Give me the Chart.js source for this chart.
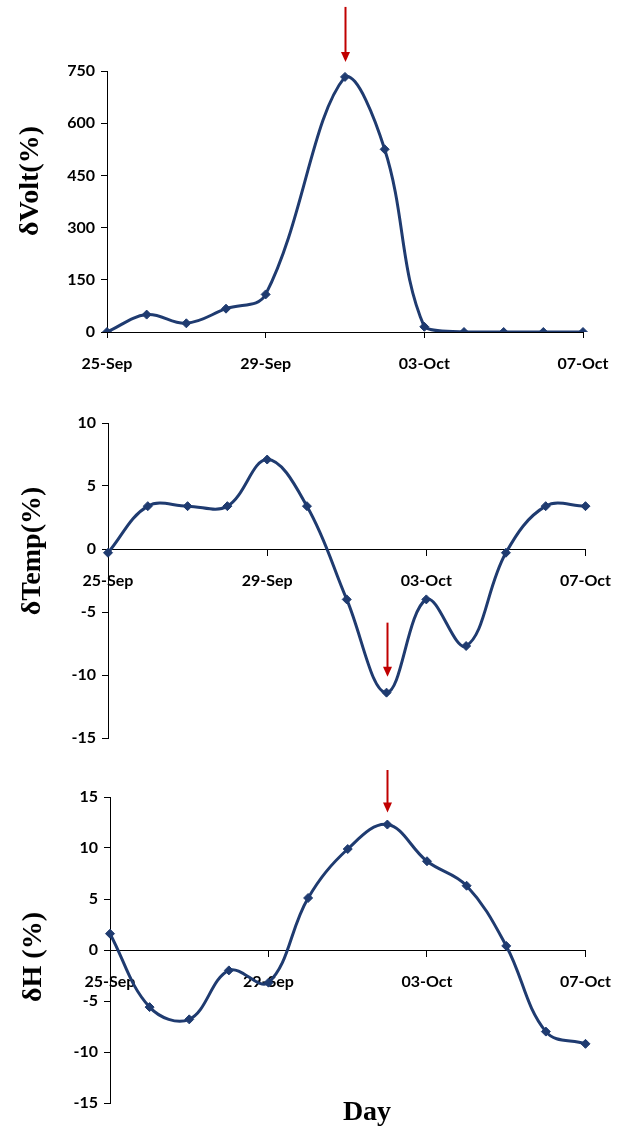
<!DOCTYPE html>
<html>
<head>
<meta charset="utf-8">
<script src="https://cdn.jsdelivr.net/npm/chart.js@4.4.1/dist/chart.umd.min.js"></script>
<style>
body{margin:0;background:#fff;width:627px;height:1128px;position:relative;overflow:hidden}
.box{position:absolute;left:0;width:627px}
.ttl{position:absolute;font:bold 28px 'Liberation Serif',serif;color:#000;white-space:nowrap;transform:translate(-50%,-50%) rotate(-90deg)}
#day{position:absolute;font:bold 28px 'Liberation Serif',serif;color:#000;transform:translate(-50%,-50%)}
</style>
</head>
<body>
<div class="box" style="top:0;height:390px"><canvas id="c1"></canvas></div>
<div class="box" style="top:390px;height:380px"><canvas id="c2"></canvas></div>
<div class="box" style="top:770px;height:358px"><canvas id="c3"></canvas></div>
<div class="ttl" style="left:29px;top:181px">δVolt(%)</div>
<div class="ttl" style="left:31px;top:551px">δTemp(%)</div>
<div class="ttl" style="left:32px;top:957px">δH (%)</div>
<div id="day" style="left:367px;top:1111px">Day</div>
<script>
// daily values, 25-Sep .. 07-Oct (30-Sep missing in the volt series)
const days = ['25-Sep','26-Sep','27-Sep','28-Sep','29-Sep','30-Sep','01-Oct','02-Oct','03-Oct','04-Oct','05-Oct','06-Oct','07-Oct'];
const shownDays = ['25-Sep','29-Sep','03-Oct','07-Oct'];
const volt = [0,50,25,67,108,null,733,525,15,0,0,0,0];
const temp = [-0.3,3.4,3.4,3.4,7.1,3.4,-4.0,-11.4,-4.0,-7.7,-0.3,3.4,3.4];
const hField = [1.6,-5.6,-6.8,-2.0,-3.2,5.1,9.9,12.3,8.7,6.3,0.4,-8.0,-9.2];
const voltTicks = [0,150,300,450,600,750];
const tempTicks = [-15,-10,-5,0,5,10];
const hTicks = [-15,-10,-5,0,5,10,15];
// day marked by the red arrow in each panel
const arrowDay = ['01-Oct','02-Oct','02-Oct'];

const NAVY='#1F3B70', RED='#C00000';
const tickFont={family:'Lato',size:16,weight:'bold'};

const arrowPlugin={
  id:'arrow',
  afterDatasetsDraw(chart,args,o){
    let pt=chart.getDatasetMeta(0).data[days.indexOf(o.day)];
    if(!pt) return;
    let ctx=chart.ctx, x=Math.round(pt.x)+0.5, tip=pt.y-o.gap, top=tip-o.len;
    ctx.save();
    ctx.strokeStyle=RED;ctx.fillStyle=RED;ctx.lineWidth=2;
    ctx.beginPath();ctx.moveTo(x,top);ctx.lineTo(x,tip-8);ctx.stroke();
    ctx.beginPath();ctx.moveTo(x-4.5,tip-10);ctx.lineTo(x+4.5,tip-10);ctx.lineTo(x,tip);ctx.closePath();ctx.fill();
    ctx.restore();
  }
};

function makeChart(id,values,ticks,pad,yWidth,xAtZero,arrow){
  let step=ticks[1]-ticks[0];
  let xScale={
    type:'category',
    offset:false,
    grid:{display:true,drawOnChartArea:false,drawTicks:true,tickLength:6,color:'#000',lineWidth:1},
    border:{display:true,color:'#000',width:1},
    ticks:{autoSkip:false,maxRotation:0,padding:16,color:'#000',font:tickFont,
      callback:(v,i)=>shownDays.includes(days[i])?days[i]:null}
  };
  if(xAtZero) xScale.position={y:0};
  else xScale.afterFit=s=>{s.height=40;};
  new Chart(document.getElementById(id),{
    type:'line',
    data:{labels:days,datasets:[{
      data:values,borderColor:NAVY,backgroundColor:NAVY,borderWidth:3,
      tension:0.38,spanGaps:true,fill:false,
      pointStyle:'rectRot',pointRadius:4.5,pointBorderWidth:1,pointBackgroundColor:NAVY,pointBorderColor:NAVY
    }]},
    options:{
      responsive:true,maintainAspectRatio:false,animation:false,
      layout:{padding:pad},
      plugins:{legend:{display:false},tooltip:{enabled:false},arrow:arrow},
      scales:{
        x:xScale,
        y:{
          min:ticks[0],max:ticks[ticks.length-1],
          afterFit:s=>{s.width=yWidth;},
          grid:{display:true,drawOnChartArea:false,drawTicks:true,tickLength:6,color:'#000',lineWidth:1},
          border:{display:true,color:'#000',width:1},
          ticks:{stepSize:step,padding:6,color:'#000',font:tickFont}
        }
      }
    },
    plugins:[arrowPlugin]
  });
}

makeChart('c1',volt,voltTicks,{top:71,right:44,bottom:18,left:0},107,false,{day:arrowDay[0],gap:15,len:55});
makeChart('c2',temp,tempTicks,{top:33,right:39,bottom:32,left:0},108,true,{day:arrowDay[1],gap:16,len:54});
makeChart('c3',hField,hTicks,{top:27,right:40,bottom:25,left:0},110,true,{day:arrowDay[2],gap:12,len:54});
</script>
</body>
</html>
